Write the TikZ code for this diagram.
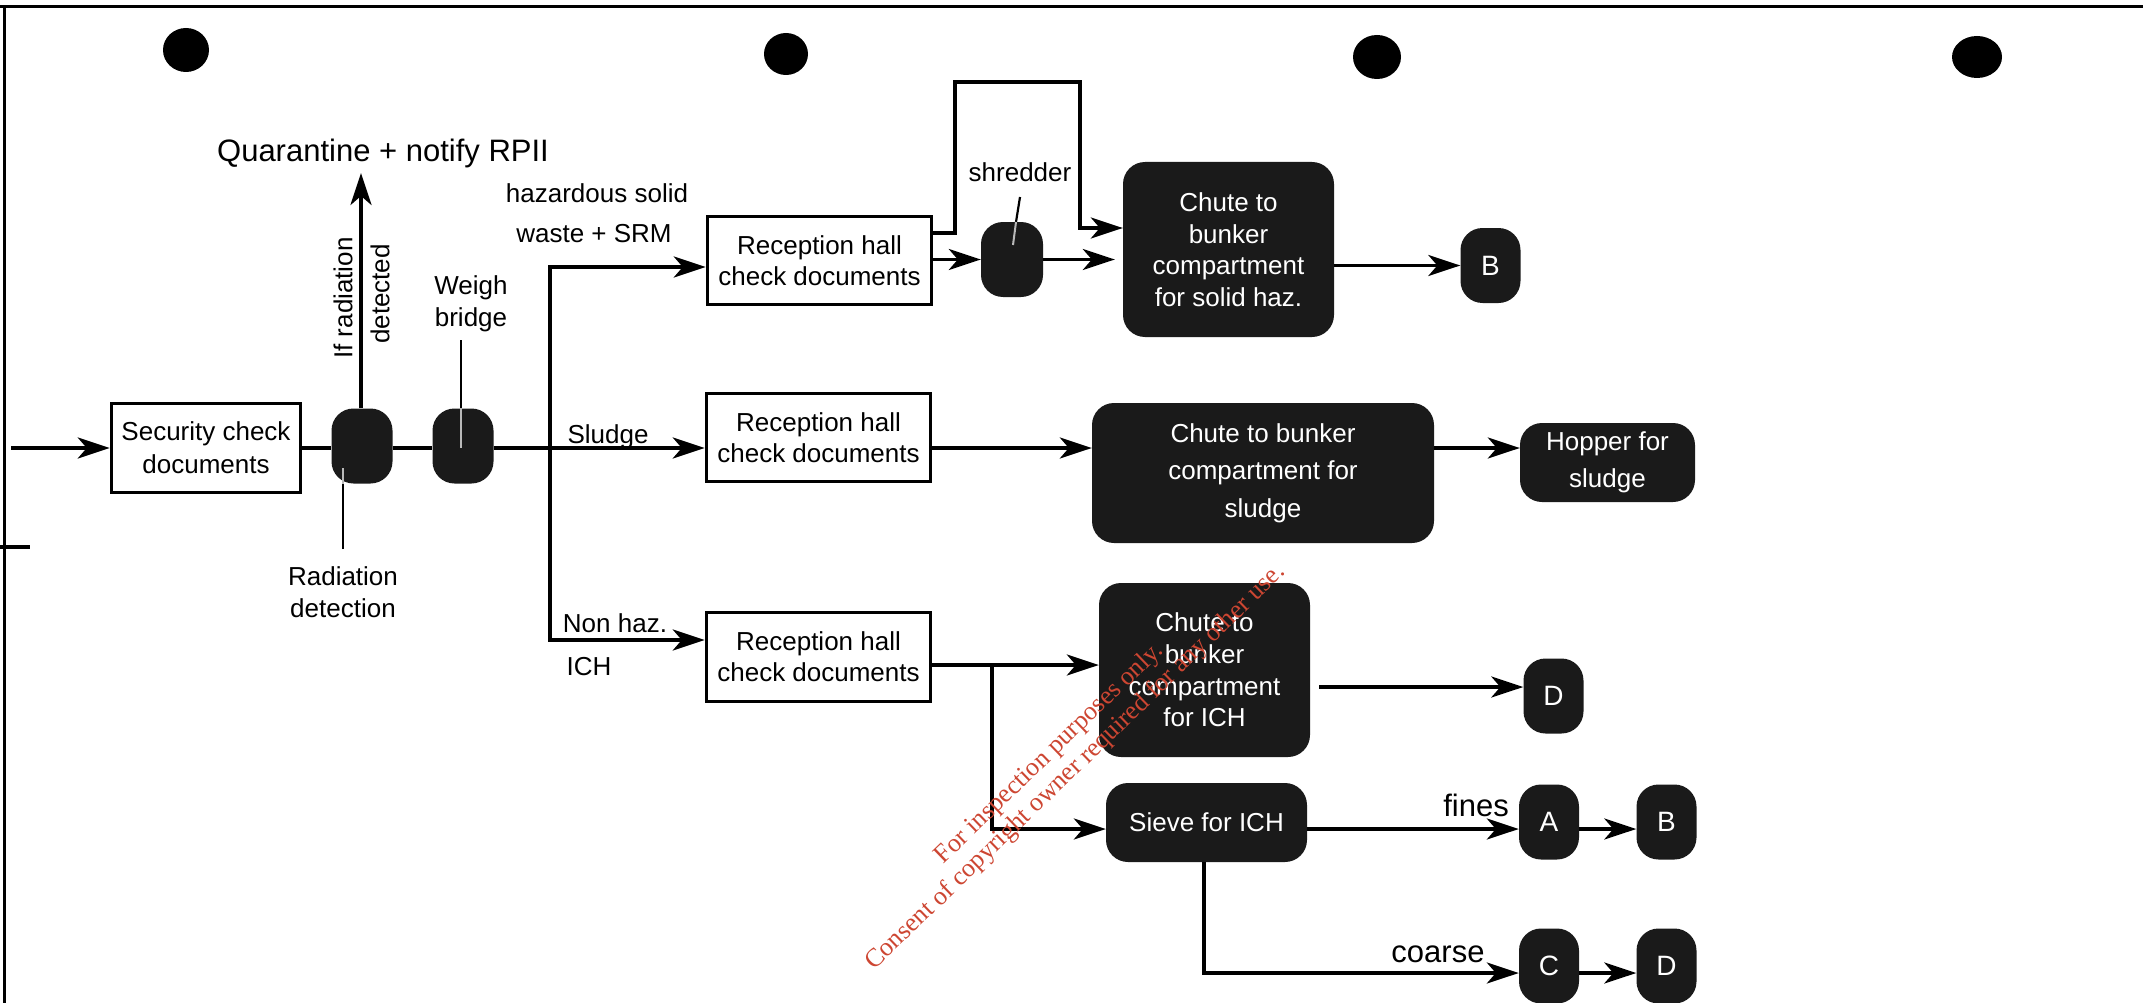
\documentclass[tikz,border=0pt]{standalone}
\usepackage{fontspec}
\setmainfont{Liberation Sans}
\newfontfamily\wmfont{Liberation Serif}
\usetikzlibrary{arrows.meta}
\newcommand{\myfs}[2]{\fontsize{#1pt}{#2pt}\selectfont}
\definecolor{dk}{RGB}{26,26,26}
\definecolor{wmred}{RGB}{205,70,50}
\tikzset{
 whitebox/.style={draw=black, line width=3.5pt, fill=white, inner sep=0pt, align=center, font=\myfs{26}{31}},
 darkbox/.style={fill=dk, rounded corners=22pt, inner sep=0pt, text=white, align=center, font=\myfs{26}{31}},
 letterbox/.style={darkbox, minimum width=60pt, minimum height=75pt, font=\myfs{28}{32}},
 conn/.style={line width=3.5pt},
 arr/.style={line width=3.5pt, -{Stealth[length=32pt,width=21pt,inset=9pt]}},
 ptr/.style={line width=2.2pt},
 ptrin/.style={line width=2pt, draw=gray!55},
 lbl/.style={inner sep=0pt, align=center, font=\myfs{26}{32}},
 txt/.style={inner sep=0pt, font=\myfs{26}{32}},
 bigtxt/.style={inner sep=0pt, font=\myfs{31}{36}},
 wmark/.style={inner sep=0pt, text=wmred, font=\wmfont\myfs{26}{30}, rotate=44, anchor=base},
}
\begin{document}
\begin{tikzpicture}[x=1pt,y=-1pt]
\useasboundingbox (0,0) rectangle (2143,1003);
% scanned page frame and punch holes
\draw[line width=3pt] (0,7) -- (2143,7);
\draw[line width=3pt] (4,7) -- (4,1003);
\draw[line width=4pt] (0,547) -- (30,547);
\fill (186,50) ellipse [x radius=23pt, y radius=22pt];
\fill (786,54) ellipse [x radius=22pt, y radius=21pt];
\fill (1377,57) ellipse [x radius=24pt, y radius=22pt];
\fill (1977,57) ellipse [x radius=25pt, y radius=21pt];

% nodes
\node[whitebox, font=\myfs{26}{33}, minimum width=189pt, minimum height=89pt] (sec) at (206,448) {Security check\\documents};
\node[darkbox, minimum width=61pt, minimum height=75pt] (rad) at (362,446) {};
\node[darkbox, minimum width=61pt, minimum height=75pt] (weigh) at (463,446) {};
\node[whitebox, minimum width=224pt, minimum height=88pt] (rec1) at (819.5,260.5) {Reception hall\\check documents};
\node[whitebox, minimum width=224pt, minimum height=88pt] (rec2) at (818.5,437.5) {Reception hall\\check documents};
\node[whitebox, minimum width=224pt, minimum height=89pt] (rec3) at (818.5,657) {Reception hall\\check documents};
\node[darkbox, minimum width=62pt, minimum height=75pt] (shred) at (1012,259.5) {};
\node[darkbox, font=\myfs{26}{31.5}, minimum width=211pt, minimum height=175pt] (chute1) at (1228.5,249.5) {Chute to\\bunker\\compartment\\for solid haz.};
\node[letterbox] (B1) at (1490.5,265.5) {B};
\node[darkbox, font=\myfs{26}{37.5}, minimum width=342pt, minimum height=140pt] (chute2) at (1263,473) {Chute to bunker\\compartment for\\sludge};
\node[darkbox, font=\myfs{26}{37}, minimum width=175pt, minimum height=79pt] (hopper) at (1607.5,462.5) {Hopper for\\sludge};
\node[darkbox, font=\myfs{26}{31.7}, minimum width=211pt, minimum height=174pt] (chute3) at (1204.5,670) {Chute to\\bunker\\compartment\\for ICH};
\node[letterbox] (D1) at (1553.5,696) {D};
\node[darkbox, minimum width=201pt, minimum height=79pt] (sieve) at (1206.5,822.5) {Sieve for ICH};
\node[letterbox] (A) at (1549,822) {A};
\node[letterbox] (B2) at (1666.5,822) {B};
\node[letterbox] (C) at (1549,966) {C};
\node[letterbox] (D2) at (1666.5,966) {D};

% labels
\node[bigtxt, anchor=base] (qt) at (383,162) {Quarantine + notify RPII};
\node[txt, rotate=90] (ifr) at (343,298) {If radiation};
\node[txt, rotate=90] (det) at (380,294) {detected};
\node[lbl] (wbl) at (471,304) {Weigh\\bridge};
\node[lbl] (rdl) at (343,592) {Radiation\\detection};
\node[txt, anchor=base] (hz1) at (597,203) {hazardous solid};
\node[txt, anchor=base] (hz2) at (594,242) {waste + SRM};
\node[txt, anchor=base] (sl) at (608,443) {Sludge};
\node[txt, anchor=base] (nh) at (615,632) {Non haz.};
\node[txt, anchor=base] (ichl) at (589,675) {ICH};
\node[txt, anchor=base] (shl) at (1020,182) {shredder};
\node[bigtxt, anchor=base] (fn) at (1476,816) {fines};
\node[bigtxt, anchor=base] (cs) at (1438,962) {coarse};

% helper coordinates
\coordinate (in) at (11,448);
\coordinate (ymain) at (0,448);
\coordinate (br1) at (550,267);
\coordinate (br2) at (550,448);
\coordinate (br3) at (550,640);
\coordinate (quar) at (361,173);
\coordinate (yloop) at (0,233);
\coordinate (lp1) at (955,82);
\coordinate (lp2) at (1080,82);
\coordinate (yloop2) at (0,228);
\coordinate (ich) at (992,665);
\coordinate (ysv) at (0,829);
\coordinate (yd1) at (0,687);
\coordinate (cdrop) at (1204,973);
\coordinate (wpt) at (461,340);
\coordinate (rpt) at (343,549);
\coordinate (spt) at (1020,197);
\coordinate (spt1) at (1016,222);
\coordinate (spt2) at (1013,245);

% connectors
\draw[arr] (in) -- (sec.west);
\draw[conn] (sec.east) -- (sec.east -| rad.west);
\draw[conn] (rad.east |- ymain) -- (weigh.west |- ymain);
\draw[arr] (weigh.east |- ymain) -- (rec2.west |- ymain);
\draw[arr] (br2) |- (rec1.west |- br1);
\draw[arr] (br2) |- (rec3.west |- br3);
\draw[arr] (rad.north -| quar) -- (quar);
\draw[arr] (rec1.east |- shred.west) -- (shred.west);
\draw[arr, shorten >=8pt] (shred.east) -- (shred.east -| chute1.west);
\draw[arr] (rec1.east |- yloop) -| (lp1) -- (lp2) |- (chute1.west |- yloop2);
\draw[arr] (chute1.east |- B1.west) -- (B1.west);
\draw[arr] (rec2.east |- ymain) -- (chute2.west |- ymain);
\draw[arr] (chute2.east |- ymain) -- (hopper.west |- ymain);
\draw[arr] (rec3.east |- ich) -- (chute3.west |- ich);
\draw[arr] (ich) |- (sieve.west |- ysv);
\draw[arr, shorten <=9pt] (chute3.east |- yd1) -- (D1.west |- yd1);
\draw[arr] (sieve.east |- ysv) -- (A.west |- ysv);
\draw[arr] (A.east |- ysv) -- (B2.west |- ysv);
\draw[arr] (sieve.south -| cdrop) |- (C.west |- cdrop);
\draw[arr] (C.east |- cdrop) -- (D2.west |- cdrop);

% pointer lines
\draw[ptr] (wpt) -- (weigh.north -| wpt);
\draw[ptrin] (weigh.north -| wpt) -- ++(0,40);
\draw[ptr] (rpt) -- (rad.south -| rpt);
\draw[ptrin] (rad.south -| rpt) -- ++(0,-16);
\draw[ptr] (spt) -- (spt1);
\draw[ptrin] (spt1) -- (spt2);

% watermark
\node[wmark] (wm1) at (1054,758) {For inspection purposes only.};
\node[wmark] (wm2) at (1080,772) {Consent of copyright owner required for any other use.};
\end{tikzpicture}
\end{document}
